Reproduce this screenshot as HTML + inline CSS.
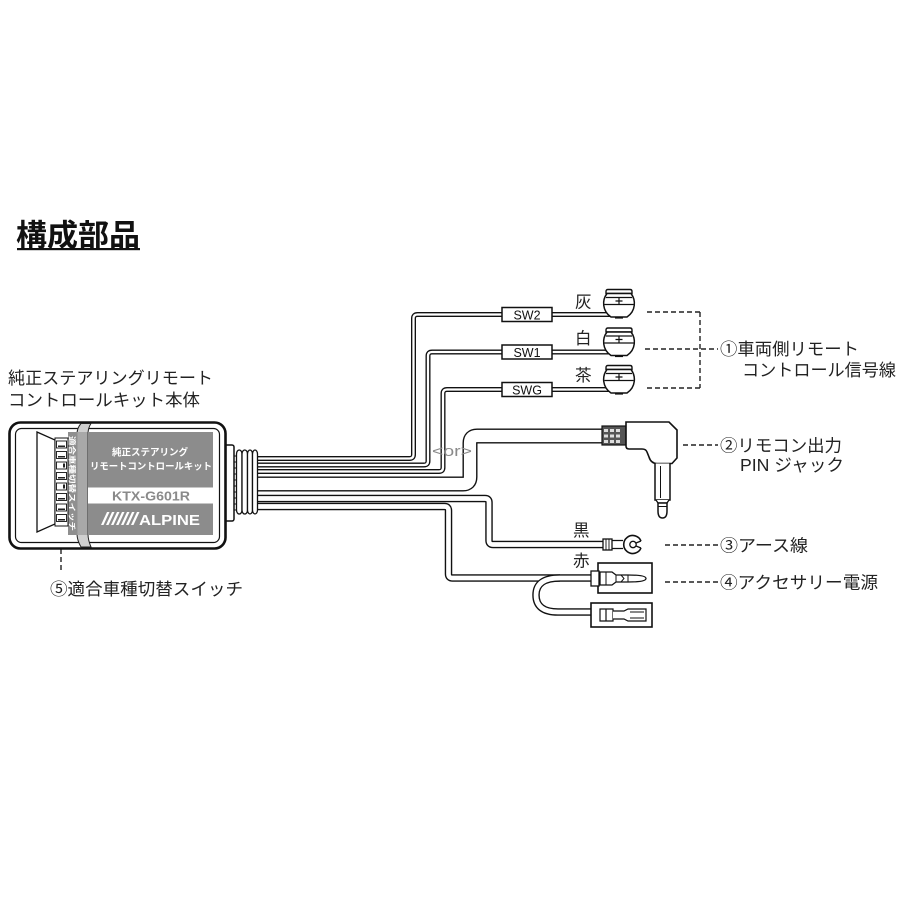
<!DOCTYPE html>
<html><head><meta charset="utf-8"><style>
html,body{margin:0;padding:0;background:#fff;}
svg{display:block;}
text{font-family:"Liberation Sans","Noto Sans CJK JP",sans-serif;}
</style></head><body>
<svg width="900" height="900" viewBox="0 0 900 900" xmlns="http://www.w3.org/2000/svg">
<defs>
<g id="cn">
 <path d="M5 0.5 H27 Q29 0.5 29 2.5 V4.5 H3 V2.5 Q3 0.5 5 0.5 Z" fill="#fff" stroke="#111" stroke-width="1.4"/>
 <path d="M4 4.5 C-1 11 -1 22 8 28 H24 C33 22 33 11 28 4.5 Z" fill="#fff" stroke="#111" stroke-width="1.5"/>
 <path d="M3 8.5 H29 M1.5 15.5 H30.5 M16 8.5 V15.5 M12.5 12 H19.5" stroke="#111" stroke-width="1.2" fill="none"/>
 <path d="M12 28.6 H20" stroke="#111" stroke-width="2"/>
</g>
</defs>
<rect width="900" height="900" fill="#fff"/>

<!-- Title -->
<text x="16" y="246" font-size="30.5" font-weight="bold" fill="#111" textLength="124" lengthAdjust="spacingAndGlyphs">構成部品</text>
<rect x="17" y="248" width="123" height="2.2" fill="#111"/>

<!-- Left labels -->
<text x="8" y="384" font-size="17" fill="#222" textLength="205" lengthAdjust="spacingAndGlyphs">純正ステアリングリモート</text>
<text x="8" y="406" font-size="17" fill="#222" textLength="192" lengthAdjust="spacingAndGlyphs">コントロールキット本体</text>

<!-- Wires (tubes) -->
<g fill="none" stroke-linejoin="round">
 <path d="M250 458.5 H409.5 Q413.5 458.5 413.5 454.5 V318.5 Q413.5 314.5 417.5 314.5 H503" stroke="#111" stroke-width="5"/>
 <path d="M250 458.5 H409.5 Q413.5 458.5 413.5 454.5 V318.5 Q413.5 314.5 417.5 314.5 H503" stroke="#fff" stroke-width="2.3"/>
 <path d="M550 314.5 H612" stroke="#111" stroke-width="5"/>
 <path d="M550 314.5 H612" stroke="#fff" stroke-width="2.3"/>

 <path d="M250 465 H424 Q428 465 428 461 V356 Q428 352 432 352 H503" stroke="#111" stroke-width="5"/>
 <path d="M250 465 H424 Q428 465 428 461 V356 Q428 352 432 352 H503" stroke="#fff" stroke-width="2.3"/>
 <path d="M550 352 H612" stroke="#111" stroke-width="5"/>
 <path d="M550 352 H612" stroke="#fff" stroke-width="2.3"/>

 <path d="M250 471.5 H439 Q443 471.5 443 467.5 V393.5 Q443 389.5 447 389.5 H503" stroke="#111" stroke-width="5"/>
 <path d="M250 471.5 H439 Q443 471.5 443 467.5 V393.5 Q443 389.5 447 389.5 H503" stroke="#fff" stroke-width="2.3"/>
 <path d="M550 389.5 H612" stroke="#111" stroke-width="5"/>
 <path d="M550 389.5 H612" stroke="#fff" stroke-width="2.3"/>

 <path d="M250 484 H463 Q470 484 470 477 V443 Q470 436 477 436 H605" stroke="#111" stroke-width="15"/>
 <path d="M250 484 H463 Q470 484 470 477 V443 Q470 436 477 436 H605" stroke="#fff" stroke-width="12.2"/>

 <path d="M250 498.5 H485 Q489 498.5 489 502.5 V540.5 Q489 544.5 493 544.5 H605" stroke="#111" stroke-width="7.5"/>
 <path d="M250 498.5 H485 Q489 498.5 489 502.5 V540.5 Q489 544.5 493 544.5 H605" stroke="#fff" stroke-width="4.7"/>

 <path d="M250 506.5 H444.5 Q448.5 506.5 448.5 510.5 V574 Q448.5 578 452.5 578 H596" stroke="#111" stroke-width="7.5"/>
 <path d="M250 506.5 H444.5 Q448.5 506.5 448.5 510.5 V574 Q448.5 578 452.5 578 H596" stroke="#fff" stroke-width="4.7"/>
 <path d="M560 578 Q536 578 536 595 Q536 612 558 612 H596" stroke="#111" stroke-width="7.5"/>
 <path d="M560 578 Q536 578 536 595 Q536 612 558 612 H596" stroke="#fff" stroke-width="4.7"/>
</g>

<text x="432" y="456" font-size="15" fill="#8a8a8a" textLength="40" lengthAdjust="spacingAndGlyphs">&lt;or&gt;</text>

<!-- SW boxes -->
<g stroke="#111" stroke-width="1.5" fill="#fff">
 <rect x="502" y="307.5" width="50" height="14"/>
 <rect x="502" y="345" width="50" height="14"/>
 <rect x="502" y="382.5" width="50" height="14"/>
</g>
<g font-size="12.5" fill="#111" text-anchor="middle">
 <text x="527" y="319.5">SW2</text>
 <text x="527" y="357">SW1</text>
 <text x="527" y="394.5">SWG</text>
</g>

<!-- Connectors -->
<use href="#cn" x="603" y="289"/>
<use href="#cn" x="603" y="327.5"/>
<use href="#cn" x="603" y="365"/>

<g font-size="16.5" fill="#222">
 <text x="575" y="307.5">灰</text>
 <text x="575" y="344">白</text>
 <text x="575" y="381">茶</text>
 <text x="573" y="536">黒</text>
 <text x="573" y="566.5">赤</text>
</g>

<!-- Jack -->
<rect x="602" y="426" width="24" height="19" fill="#555" stroke="#111" stroke-width="1.2"/>
<g fill="#ddd">
 <rect x="604" y="429" width="4" height="3"/><rect x="610" y="429" width="4" height="3"/><rect x="616" y="429" width="4" height="3"/>
 <rect x="604" y="434.5" width="4" height="3"/><rect x="610" y="434.5" width="4" height="3"/><rect x="616" y="434.5" width="4" height="3"/>
 <rect x="604" y="440" width="4" height="3"/><rect x="610" y="440" width="4" height="3"/><rect x="616" y="440" width="4" height="3"/>
</g>
<path d="M626 422 H669 L677 430 V458 L672 463.5 H657 Q651 463.5 649 457 L647 452 Q646 449 642 449 H629 Q626 449 626 446 Z" fill="#fff" stroke="#111" stroke-width="1.6"/>
<path d="M655 463.5 V500 H670 V463.5" fill="#fff" stroke="#111" stroke-width="1.5"/>
<path d="M660.5 466 V498" stroke="#111" stroke-width="1"/>
<path d="M656 500 L658 503 H667 L669 500" fill="#fff" stroke="#111" stroke-width="1.3"/>
<path d="M658 503 V511 Q658 518 662.5 518 Q667 518 667 511 V503 Z" fill="#fff" stroke="#111" stroke-width="1.5"/>
<path d="M657.5 506.5 H667.5" stroke="#111" stroke-width="1"/>

<!-- Ring terminal -->
<rect x="603" y="539" width="9" height="11" fill="#fff" stroke="#111" stroke-width="1.3"/>
<path d="M606 539 V550 M609 539 V550" stroke="#111" stroke-width="0.9"/>
<path d="M612 540.5 H623 M612 548.5 H623" stroke="#111" stroke-width="1.3"/>
<path d="M641 541 A9 9 0 1 0 641 548" fill="#fff" stroke="#111" stroke-width="1.6"/>
<circle cx="633" cy="544.5" r="3.2" fill="#fff" stroke="#111" stroke-width="1.3"/>
<path d="M636 543 L641 541 M636 546 L641 548" stroke="#111" stroke-width="1.3"/>

<!-- Red connectors -->
<rect x="598" y="563" width="54" height="30" fill="#fff" stroke="#111" stroke-width="1.6"/>
<rect x="591" y="571" width="8" height="15" fill="#fff" stroke="#111" stroke-width="1.3"/>
<path d="M600 572 H612 L616 575 H628 Q646 575 646 578.5 Q646 582 628 582 H616 L612 585 H600 Z" fill="#fff" stroke="#111" stroke-width="1.3"/>
<path d="M606 572 V585 M616 575 V582 M628 575 V582 M621 575 L624 578.5 L621 582" stroke="#111" stroke-width="1" fill="none"/>
<rect x="591" y="603" width="61" height="24" fill="#fff" stroke="#111" stroke-width="1.6"/>
<path d="M600 609 H613 V621 H600 Z" fill="#fff" stroke="#111" stroke-width="1.2"/>
<path d="M606 609 V621 M613 611 H624 L628 609 H646 V621 H628 L624 619 H613" fill="#fff" stroke="#111" stroke-width="1.2"/>
<path d="M630 612 H644 M630 618 H644" stroke="#111" stroke-width="0.9"/>

<!-- Dashed leaders -->
<g stroke="#222" stroke-width="1.4" stroke-dasharray="5 3" fill="none">
 <path d="M647 312 H700"/>
 <path d="M645 349 H718"/>
 <path d="M647 388 H700"/>
 <path d="M700 312 V388"/>
 <path d="M683 445 H718"/>
 <path d="M665 545 H718"/>
 <path d="M665 582 H718"/>
 <path d="M61 517 V573"/>
</g>

<!-- Right labels -->
<g font-size="17.3" fill="#222">
 <text x="720" y="355" textLength="139" lengthAdjust="spacingAndGlyphs">①車両側リモート</text>
 <text x="742" y="376" textLength="154" lengthAdjust="spacingAndGlyphs">コントロール信号線</text>
 <text x="720" y="451.5" textLength="122" lengthAdjust="spacingAndGlyphs">②リモコン出力</text>
 <text x="740" y="471" textLength="104" lengthAdjust="spacingAndGlyphs">PIN ジャック</text>
 <text x="720" y="551.5" textLength="88" lengthAdjust="spacingAndGlyphs">③アース線</text>
 <text x="720" y="588.5" textLength="158" lengthAdjust="spacingAndGlyphs">④アクセサリー電源</text>
</g>
<text x="50" y="595" font-size="17.3" fill="#222" textLength="193" lengthAdjust="spacingAndGlyphs">⑤適合車種切替スイッチ</text>

<!-- Box connector + strain relief -->
<rect x="222" y="445" width="12" height="76" rx="2" fill="#fff" stroke="#111" stroke-width="1.5"/>
<g stroke="#111" stroke-width="0.9">
 <path d="M234 456 H237 M234 462 H237 M234 468 H237 M234 474 H237 M234 480 H237 M234 486 H237 M234 492 H237 M234 498 H237 M234 504 H237 M234 510 H237"/>
</g>
<g fill="#fff" stroke="#111" stroke-width="1.3">
 <rect x="236.5" y="450" width="5.5" height="64" rx="2.7" ry="4"/>
 <rect x="242" y="450" width="5.5" height="64" rx="2.7" ry="4"/>
 <rect x="247.5" y="450" width="5" height="64" rx="2.5" ry="4"/>
 <rect x="252.5" y="450" width="5" height="64" rx="2.5" ry="4"/>
</g>

<!-- Main box -->
<rect x="9.5" y="422.5" width="216" height="126" rx="11" fill="#fff" stroke="#111" stroke-width="2.6"/>
<rect x="15.5" y="428.5" width="204" height="114" rx="6" fill="#fff" stroke="#111" stroke-width="1.2"/>

<!-- label wrap -->
<path d="M81 423.5 Q77 428 77 434 V534 Q77 540 81 547 H91 Q88 540 88 534 V434 Q88 428 91 423.5 Z" fill="#cfcfcf" stroke="#222" stroke-width="1"/>
<rect x="77.5" y="432" width="10.5" height="103" fill="#a8a8a8"/>
<path d="M77 432 V535 M88 432 V535" stroke="#333" stroke-width="1"/>
<rect x="88" y="432" width="125" height="103" fill="#8c8c8c"/>
<rect x="68" y="432" width="9.5" height="103" fill="#8f8f8f"/>
<text transform="translate(69.5,436) rotate(90)" font-size="7.6" font-weight="bold" fill="#fff" textLength="95" lengthAdjust="spacingAndGlyphs">適合車種切替スイッチ</text>

<!-- trapezoid -->
<path d="M37 432 L55 440 V524 L37 532 Z" fill="#fff" stroke="#111" stroke-width="1.3"/>
<!-- DIP switches -->
<rect x="55" y="438" width="13" height="88" fill="#fff" stroke="#111" stroke-width="1"/>
<g stroke="#111" stroke-width="0.9" fill="#fff">
 <rect x="56.5" y="441" width="10" height="7"/><rect x="56.5" y="451.5" width="10" height="7"/>
 <rect x="56.5" y="462" width="10" height="7"/><rect x="56.5" y="472.5" width="10" height="7"/>
 <rect x="56.5" y="483" width="10" height="7"/><rect x="56.5" y="493.5" width="10" height="7"/>
 <rect x="56.5" y="504" width="10" height="7"/><rect x="56.5" y="514.5" width="10" height="7"/>
</g>
<g fill="#222">
 <rect x="58" y="445.5" width="7" height="1.5"/><rect x="58" y="456" width="7" height="1.5"/>
 <rect x="63" y="463.5" width="2" height="4"/><rect x="58" y="477" width="7" height="1.5"/>
 <rect x="63" y="484.5" width="2" height="4"/><rect x="58" y="498" width="7" height="1.5"/>
 <rect x="58" y="508.5" width="7" height="1.5"/><rect x="58" y="519" width="7" height="1.5"/>
</g>

<!-- Label text -->
<text x="150" y="455.5" font-size="9.5" font-weight="bold" fill="#fff" text-anchor="middle" textLength="76" lengthAdjust="spacingAndGlyphs">純正ステアリング</text>
<text x="151" y="469.5" font-size="9.5" font-weight="bold" fill="#fff" text-anchor="middle" textLength="122" lengthAdjust="spacingAndGlyphs">リモートコントロールキット</text>
<rect x="88" y="487.5" width="125" height="16" fill="#fff"/>
<text x="151" y="500.5" font-size="13" font-weight="bold" fill="#8a8a8a" text-anchor="middle" textLength="78" lengthAdjust="spacingAndGlyphs">KTX-G601R</text>
<g fill="#fff">
 <path d="M101 525 L107 512 H109.5 L103.5 525 Z"/>
 <path d="M106 525 L112 512 H114.5 L108.5 525 Z"/>
 <path d="M111 525 L117 512 H119.5 L113.5 525 Z"/>
 <path d="M116 525 L122 512 H124.5 L118.5 525 Z"/>
 <path d="M121 525 L127 512 H129.5 L123.5 525 Z"/>
 <path d="M126 525 L132 512 H134.5 L128.5 525 Z"/>
 <path d="M131 525 L137 512 H139.5 L133.5 525 Z"/>
</g>
<text x="139" y="525" font-size="15" font-weight="bold" fill="#fff" textLength="61" lengthAdjust="spacingAndGlyphs">ALPINE</text>
</svg>
</body></html>
